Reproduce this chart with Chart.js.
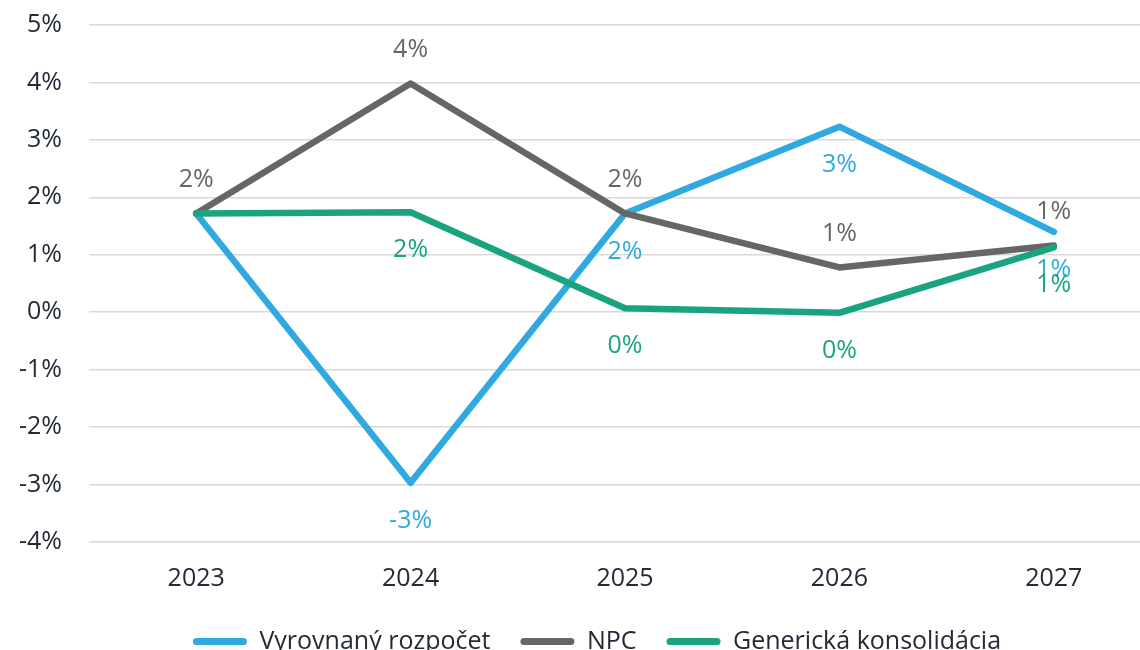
<!DOCTYPE html>
<html lang="sk">
<head>
  <meta charset="UTF-8">
  <title>Scenáre</title>
  <script src="https://cdn.jsdelivr.net/npm/chart.js"></script>
  <style>
    html, body { margin: 0; padding: 0; overflow: hidden; background: #fff; }
    .chart-box { width: 1194px; height: 664px; }
  </style>
</head>
<body>
  <div class="chart-box">
    <canvas id="lineChart"></canvas>
  </div>

  <script>
    // Dáta
    const years = ['2023', '2024', '2025', '2026', '2027'];
    const vyrovnany = [1.72, -2.97, 1.72, 3.23, 1.40];
    const npc = [1.72, 3.98, 1.72, 0.78, 1.16];
    const genericka = [1.72, 1.74, 0.07, -0.01, 1.13];
    const yTicks = [-4, -3, -2, -1, 0, 1, 2, 3, 4, 5];

    const BLUE = '#2fa9e0';
    const GREY = '#666666';
    const GREEN = '#1aa37f';
    const TEXT = '#232a38';

    Chart.defaults.font.family = "'Open Sans', sans-serif";
    Chart.defaults.font.size = 25;

    // Popisky hodnôt (nad / pod bodom)
    const valueLabels = {
      id: 'valueLabels',
      afterDatasetsDraw(chart) {
        const ctx = chart.ctx;
        ctx.save();
        ctx.font = "25px 'Open Sans', sans-serif";
        ctx.textAlign = 'center';
        ctx.textBaseline = 'middle';
        chart.data.datasets.forEach((ds, i) => {
          const meta = chart.getDatasetMeta(i);
          meta.data.forEach((pt, j) => {
            if (ds.labelSkip && ds.labelSkip.includes(j)) return;
            const v = Math.round(ds.data[j]);
            const txt = (v === 0 ? 0 : v) + '%';
            const dy = ds.labelPos === 'above' ? -34 : 38;
            ctx.fillStyle = ds.borderColor;
            ctx.fillText(txt, pt.x, pt.y + dy);
          });
        });
        ctx.restore();
      }
    };

    const ctxLine = document.getElementById('lineChart').getContext('2d');
    const lineChart = new Chart(ctxLine, {
      type: 'line',
      data: {
        labels: years,
        datasets: [
          {
            label: 'Vyrovnaný rozpočet',
            data: vyrovnany,
            borderColor: BLUE,
            backgroundColor: BLUE,
            labelPos: 'below',
            labelSkip: [0],
            order: 3
          },
          {
            label: 'NPC',
            data: npc,
            borderColor: GREY,
            backgroundColor: GREY,
            labelPos: 'above',
            order: 2
          },
          {
            label: 'Generická konsolidácia',
            data: genericka,
            borderColor: GREEN,
            backgroundColor: GREEN,
            labelPos: 'below',
            labelSkip: [0],
            order: 1
          }
        ]
      },
      options: {
        responsive: true,
        maintainAspectRatio: false,
        animation: false,
        layout: { padding: { top: 25, left: 0, right: 0, bottom: 0 } },
        elements: {
          line: { borderWidth: 6.5, borderCapStyle: 'round', borderJoinStyle: 'round', tension: 0 },
          point: { radius: 0, hoverRadius: 0 }
        },
        plugins: {
          tooltip: { enabled: false },
          legend: {
            position: 'bottom',
            labels: {
              color: TEXT,
              boxWidth: 54,
              boxHeight: 7,
              padding: 30,
              useBorderRadius: true,
              borderRadius: 3.5,
              generateLabels(chart) {
                return chart.data.datasets.map((ds, i) => ({
                  text: ds.label,
                  fillStyle: ds.borderColor,
                  strokeStyle: ds.borderColor,
                  lineWidth: 0,
                  fontColor: TEXT,
                  borderRadius: 3.5,
                  datasetIndex: i,
                  hidden: false
                }));
              }
            }
          }
        },
        scales: {
          x: {
            offset: true,
            grid: { display: false, drawTicks: false },
            border: { display: false },
            ticks: { color: TEXT, padding: 22 },
            afterFit(scale) { scale.height = 57; }
          },
          y: {
            min: -4,
            max: 5,
            afterBuildTicks(scale) { scale.ticks = yTicks.map(v => ({ value: v })); },
            grid: { color: '#d9d9d9', lineWidth: 1.5, drawTicks: false },
            border: { display: false },
            ticks: {
              color: TEXT,
              padding: 27,
              callback: (v) => v + '%'
            },
            afterFit(scale) {
              scale.width = 89;
              scale.paddingTop = 0;
              scale.paddingBottom = 0;
            }
          },
          // prázdna os vpravo, len kvôli okraju
          yRight: {
            position: 'right',
            min: 0,
            max: 1,
            grid: { display: false, drawTicks: false },
            border: { display: false },
            ticks: { display: false },
            afterFit(scale) { scale.width = 33; }
          }
        }
      },
      plugins: [valueLabels]
    });
  </script>
</body>
</html>
